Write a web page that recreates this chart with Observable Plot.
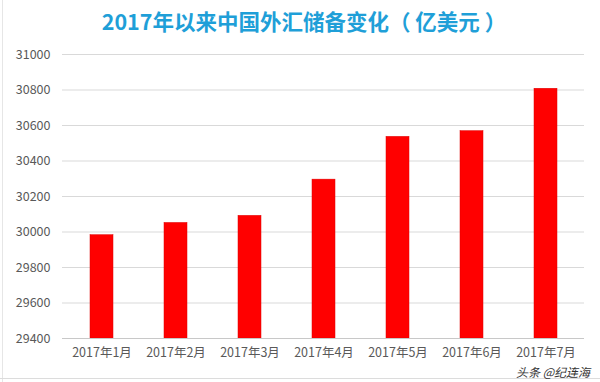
<!DOCTYPE html>
<html>
<head>
<meta charset="utf-8">
<script src="https://cdn.jsdelivr.net/npm/d3@7"></script>
<script src="https://cdn.jsdelivr.net/npm/@observablehq/plot@0.6"></script>
<style>
  html, body { margin: 0; padding: 0; background: #fff; }
  #wrap { position: relative; width: 600px; height: 382px; overflow: hidden; font-family: "Noto Sans CJK SC", "Noto Sans", sans-serif; }
  #title { height: 40px; line-height: 42px; text-align: center; color: #1f9fd8; font-weight: bold; font-size: 21.5px; padding-left: 8px; }
  #frame { position: absolute; left: 2px; top: 0; width: 1px; height: 382px; background: #e6e6e6; }
  #bottom { position: absolute; left: 0; top: 378px; width: 600px; height: 1px; background: #dcdcdc; }
  #mark { position: absolute; right: 10px; top: 366px; font-size: 12px; line-height: 12px; color: #333; font-style: italic; }
</style>
</head>
<body>
<div id="wrap">
  <div id="frame"></div>
  <div id="title">2017年以来中国外汇储备变化（ 亿美元 ）</div>
  <div id="chart"></div>
  <div id="bottom"></div>
  <div id="mark">头条 @纪连海</div>
</div>
<script>
const months = ["2017年1月", "2017年2月", "2017年3月", "2017年4月", "2017年5月", "2017年6月", "2017年7月"];
const reserves = [29982, 30051, 30091, 30295, 30536, 30568, 30807];
const yTicks = [29400, 29600, 29800, 30000, 30200, 30400, 30600, 30800, 31000];

const data = months.map((m, i) => ({month: m, value: reserves[i]}));

const chart = Plot.plot({
  width: 600,
  height: 342,
  marginTop: 14,
  marginBottom: 44,
  marginLeft: 62,
  marginRight: 16,
  style: {fontFamily: "'Noto Sans CJK SC', 'Noto Sans', sans-serif", fontSize: "12.5px", color: "#595959", background: "transparent"},
  x: {domain: months, paddingInner: 0.69, paddingOuter: 0.345, label: null},
  y: {domain: [29400, 31000], label: null},
  marks: [
    Plot.gridY(yTicks, {stroke: "#d9d9d9", strokeOpacity: 1}),
    Plot.barY(data, {x: "month", y1: 29400, y2: "value", fill: "#ff0000", stroke: "#e00000", strokeWidth: 0.5}),
    Plot.ruleY([29400], {stroke: "#c8c8c8"}),
    Plot.axisX({tickSize: 0, tickPadding: 10, fill: "#595959"}),
    Plot.axisY({ticks: yTicks, tickSize: 0, tickPadding: 12, fill: "#595959", tickFormat: d => String(d)})
  ]
});
document.getElementById("chart").appendChild(chart);
</script>
</body>
</html>
